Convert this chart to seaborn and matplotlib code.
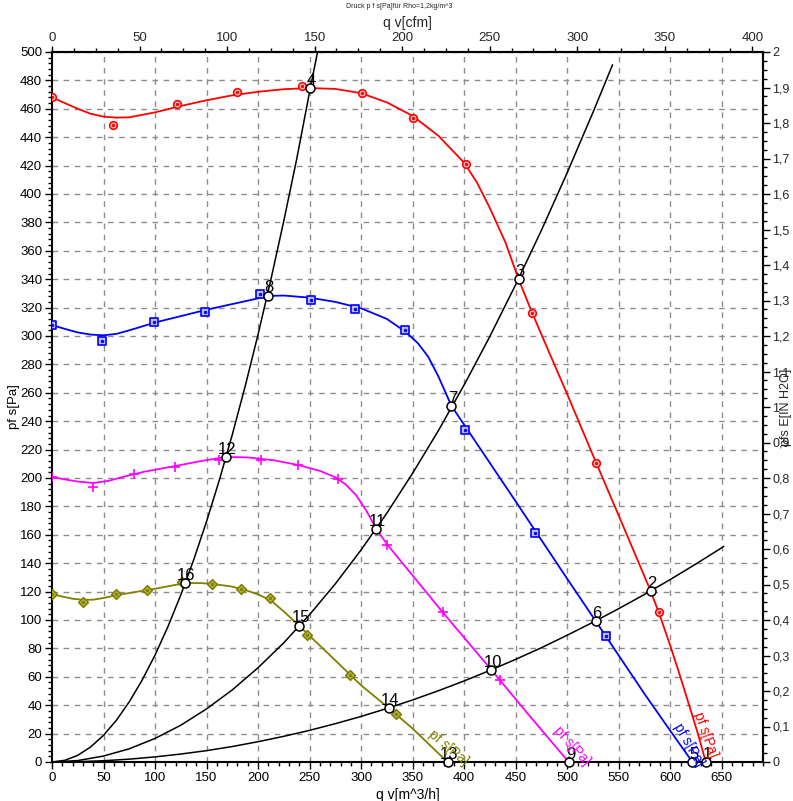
import numpy as np
import pandas as pd
import matplotlib
matplotlib.use("Agg")
import matplotlib.pyplot as plt
import matplotlib.ticker as mticker
import seaborn as sns

# ---------------- data (q v in m^3/h, p f s in Pa) ----------------
red_mark_x = [0, 59.3, 121.5, 179.7, 243, 301, 350.8, 402, 466, 528, 588.8]
red_mark_y = [468.3, 448.6, 463.4, 471.8, 476, 471, 453.5, 421, 316, 210.6, 105.6]
red_line_x = [0, 12.5, 25, 37.5, 50, 62.5, 75, 100, 125, 150, 175, 200, 225, 250, 275, 300, 325, 350,
              375, 400, 412.5, 425, 440, 452.8, 465, 475, 500, 525, 550, 581, 590, 600, 610, 620, 627, 634.5]
red_line_y = [468, 464, 460, 456.5, 454.5, 453.8, 454, 457.5, 462, 466, 469.5, 472, 473.8, 474.6, 474, 471, 464.5, 455,
              441, 422, 408, 390, 366, 340, 318, 301, 259, 216, 173.5, 120.4, 103, 82, 59.5, 36, 19.5, 0]

blue_mark_x = [0, 48.6, 99, 148.7, 202, 251.7, 294.4, 343, 401, 468.3, 537.3]
blue_mark_y = [307.7, 296.5, 309.9, 316.9, 329.6, 325.4, 319, 304, 233.8, 161.3, 88.7]
blue_line_x = [0, 12.5, 25, 37.5, 50, 62.5, 75, 100, 125, 150, 175, 200, 209.2, 225, 250, 275, 300, 325, 343,
               355, 365, 375, 387.7, 400, 450, 500, 527.6, 550, 575, 600, 621.5]
blue_line_y = [307.7, 305, 302.5, 301, 300.5, 301.5, 304, 309.5, 314, 318.5, 322.5, 326.5, 328.2, 328.5, 327, 324,
               319.5, 312, 303, 295, 285.5, 271.5, 250.7, 237.5, 183.5, 129, 99.3, 75, 48, 22, 0]

mag_mark_x = [0, 39.8, 79.7, 119.5, 162, 203, 239, 278, 325.5, 379, 435]
mag_mark_y = [200.7, 193.7, 202.8, 207.7, 213, 212.7, 209, 199.3, 152.8, 105.6, 57.7]
mag_line_x = [0, 12.5, 25, 40, 55, 70, 90, 120, 145, 169, 190, 215, 240, 260, 275, 285, 295, 305, 314.8,
              325.5, 379, 426.5, 460, 501.4]
mag_line_y = [200.7, 199, 197.5, 196.5, 198, 201, 204.5, 208.5, 212, 214.8, 214.5, 212.5, 209, 205, 200.5,
              195.5, 188, 177, 164, 153, 105.6, 64.8, 35.5, 0]

oli_mark_x = [0, 30, 62, 92.3, 126, 155.5, 183.7, 212, 247.8, 289.5, 334]
oli_mark_y = [118.3, 112.7, 118.3, 121, 126.5, 125.4, 121.8, 115.5, 89.4, 61.3, 33.8]
oli_line_x = [0, 10, 20, 30, 40, 50, 62.5, 75, 100, 129, 145, 160, 175, 190, 200, 212, 225, 240, 270, 300,
              326.8, 350, 383.8]
oli_line_y = [118.3, 116.5, 115, 114.2, 114.3, 115.5, 117.5, 119, 122, 126, 126, 125, 123.5, 120.5, 118, 114,
              106, 95.8, 75, 54, 38, 23.5, 0]

# system curves
sysA_x = [0, 12.5, 25, 37.5, 50, 62.5, 75, 87.5, 100, 112.5, 125, 137.5, 150, 162.5, 175, 187.5, 200,
          212.5, 225, 237.5, 250.7, 257.7]
sysA_y = [0, 1.2, 4.7, 10.6, 18.8, 29.4, 42.4, 57.7, 75.3, 95.3, 117.7, 142.4, 169.4, 198.8, 230.6,
          264.7, 301.2, 340, 381.2, 424.7, 474.6, 500]
sysB_x = [0, 25, 50, 75, 100, 125, 150, 175, 200, 225, 250, 275, 300, 325, 350, 375, 400, 425, 450, 475,
          500, 525, 544]
sysB_y = [0, 1, 4.2, 9.3, 16.6, 25.9, 37.4, 50.8, 66.4, 84, 103.8, 125.5, 149.4, 175.3, 203.4, 233.4,
          265.6, 299.8, 336.2, 374.5, 415, 457.5, 491]
sysC_x = [0, 25, 50, 75, 100, 125, 150, 175, 200, 225, 250, 275, 300, 325, 350, 375, 400, 425, 450, 475,
          500, 525, 550, 575, 600, 625, 652]
sysC_y = [0, 0.2, 0.9, 2, 3.6, 5.6, 8, 10.9, 14.3, 18.1, 22.3, 27, 32.1, 37.7, 43.7, 50.2, 57.1, 64.5,
          72.3, 80.5, 89.3, 98.4, 108, 118, 128.5, 139.5, 151.8]

# operating points
op_labels = ["1", "2", "3", "4", "5", "6", "7", "8", "9", "10", "11", "12", "13", "14", "15", "16"]
op_x = [634.5, 581, 452.8, 250.7, 621.5, 527.6, 387.7, 209.2, 502, 426.5, 314.8, 169, 384, 326.8, 240, 129]
op_y = [0, 120.4, 340, 474.6, 0, 99.3, 250.7, 328.2, 0, 64.8, 164, 214.8, 0, 38, 95.8, 126]

x_ticks = list(range(0, 651, 50))
y_ticks = list(range(0, 501, 20))
top_ticks = list(range(0, 401, 50))
right_ticks = [i / 10 for i in range(0, 21)]

# ---------------- figure ----------------
sns.set_theme(style="white")
plt.rcParams['font.family'] = ['Liberation Sans', 'DejaVu Sans']

fig = plt.figure(figsize=(7.93, 8.01), dpi=100)
ax = fig.add_axes([52 / 793, 1 - 762 / 801, (763 - 52) / 793, (762 - 52) / 801])

ax.set_xlim(0, 690)
ax.set_ylim(0, 500)

# grid
for xv in x_ticks[1:]:
    ax.axvline(xv, color='#8c8c8c', lw=1, ls=(0, (4, 4)), zorder=0)
for yv in y_ticks[1:]:
    ax.axhline(yv, color='#8c8c8c', lw=1, ls=(0, (4, 4)), zorder=0)

def line(xs, ys, color, lw=1.3):
    df = pd.DataFrame({'x': xs, 'y': ys})
    sns.lineplot(data=df, x='x', y='y', ax=ax, color=color, lw=lw, sort=False,
                 estimator=None, zorder=3)

# system curves
for sx, sy in [(sysA_x, sysA_y), (sysB_x, sysB_y), (sysC_x, sysC_y)]:
    line(sx, sy, 'black', 1.1)

series = [
    (red_line_x, red_line_y, red_mark_x, red_mark_y, '#ff0000', 'o', '#ffd0d0'),
    (blue_line_x, blue_line_y, blue_mark_x, blue_mark_y, '#0000ff', 's', '#c0c0ff'),
    (mag_line_x, mag_line_y, mag_mark_x, mag_mark_y, '#ff00ff', '+', None),
    (oli_line_x, oli_line_y, oli_mark_x, oli_mark_y, '#808000', 'D', '#b8b850'),
]
for lx, ly, mx, my, col, mk, face in series:
    line(lx, ly, col)
    dfm = pd.DataFrame({'x': mx, 'y': my})
    if mk == '+':
        sns.scatterplot(data=dfm, x='x', y='y', ax=ax, marker='+', s=45, color=col,
                        linewidth=1.2, zorder=4, legend=False)
    else:
        sz = 30 if mk != 'D' else 24
        sns.scatterplot(data=dfm, x='x', y='y', ax=ax, marker=mk, s=sz, facecolor=face,
                        edgecolor=col, linewidth=1.2, zorder=4, legend=False)
        sns.scatterplot(data=dfm, x='x', y='y', ax=ax, marker='o', s=4, color=col,
                        edgecolor=col, linewidth=0.5, zorder=5, legend=False)

# operating points
dfo = pd.DataFrame({'x': op_x, 'y': op_y})
sns.scatterplot(data=dfo, x='x', y='y', ax=ax, marker='o', s=42, facecolor='white',
                edgecolor='black', linewidth=1.1, zorder=6, legend=False, clip_on=False)
for lab, xx, yy in zip(op_labels, op_x, op_y):
    ax.annotate(lab, (xx, yy), xytext=(1, 2.5), textcoords='offset points',
                ha='center', va='baseline', fontsize=12, color='black', zorder=7)

# curve name labels
ax.text(634.4, 19, "pf s[Pa]", color='#ff0000', rotation=-70, fontsize=10,
        ha='center', va='center', rotation_mode='anchor', zorder=7)
ax.text(618, 12, "pf s[Pa]", color='#0000ff', rotation=-60, fontsize=10,
        ha='center', va='center', rotation_mode='anchor', zorder=7)
ax.text(505, 11.3, "pf s[Pa]", color='#ff00ff', rotation=-48, fontsize=10,
        ha='center', va='center', rotation_mode='anchor', zorder=7)
ax.text(384.8, 9.9, "pf s[Pa]", color='#808000', rotation=-40, fontsize=10,
        ha='center', va='center', rotation_mode='anchor', zorder=7)

# axes styling
for sp in ax.spines.values():
    sp.set_color('black')
    sp.set_linewidth(1.5)
ax.set_xticks(x_ticks)
ax.set_yticks(y_ticks)
ax.xaxis.set_minor_locator(mticker.MultipleLocator(10))
ax.yaxis.set_minor_locator(mticker.MultipleLocator(4))
ax.tick_params(axis='both', which='major', direction='out', length=5, width=1,
               labelsize=9.5, color='black', labelcolor='black', pad=2)
ax.tick_params(axis='both', which='minor', direction='out', length=3, width=1, color='black')
ax.tick_params(axis='x', bottom=True, which='both')
ax.tick_params(axis='y', left=True, which='both')
ax.set_xlabel("q v[m^3/h]", fontsize=10, labelpad=3, color='black')
ax.set_ylabel("pf s[Pa]", fontsize=9.5, labelpad=0, color='black')

top = ax.secondary_xaxis('top', functions=(lambda v: v / 1.699, lambda v: v * 1.699))
top.set_xticks(top_ticks)
top.xaxis.set_minor_locator(mticker.MultipleLocator(12.5))
top.tick_params(which='major', direction='out', length=4, width=1, labelsize=9.5, pad=2, color='black')
top.tick_params(which='minor', direction='out', length=3, width=1, color='black')
top.spines['top'].set_linewidth(1.5)
top.set_xlabel("q v[cfm]", fontsize=10, labelpad=3)

right = ax.secondary_yaxis('right', functions=(lambda v: v / 250, lambda v: v * 250))
right.set_yticks(right_ticks)
right.yaxis.set_major_formatter(mticker.FuncFormatter(
    lambda v, p: ("%g" % round(v, 2)).replace('.', ',')))
right.yaxis.set_minor_locator(mticker.MultipleLocator(0.025))
right.tick_params(which='major', direction='out', length=5, width=1, labelsize=9, pad=1.5, color='black')
right.tick_params(which='minor', direction='out', length=3, width=1, color='black')
right.spines['right'].set_linewidth(1.5)
right.set_ylabel("pfs E[IN H2O]", fontsize=9, labelpad=-6.5)

fig.text(0.504, 0.9925, "Druck p f s[Pa]für Rho=1,2kg/m^3", fontsize=5, ha='center', va='center')

fig.savefig("out.png", dpi=100)
